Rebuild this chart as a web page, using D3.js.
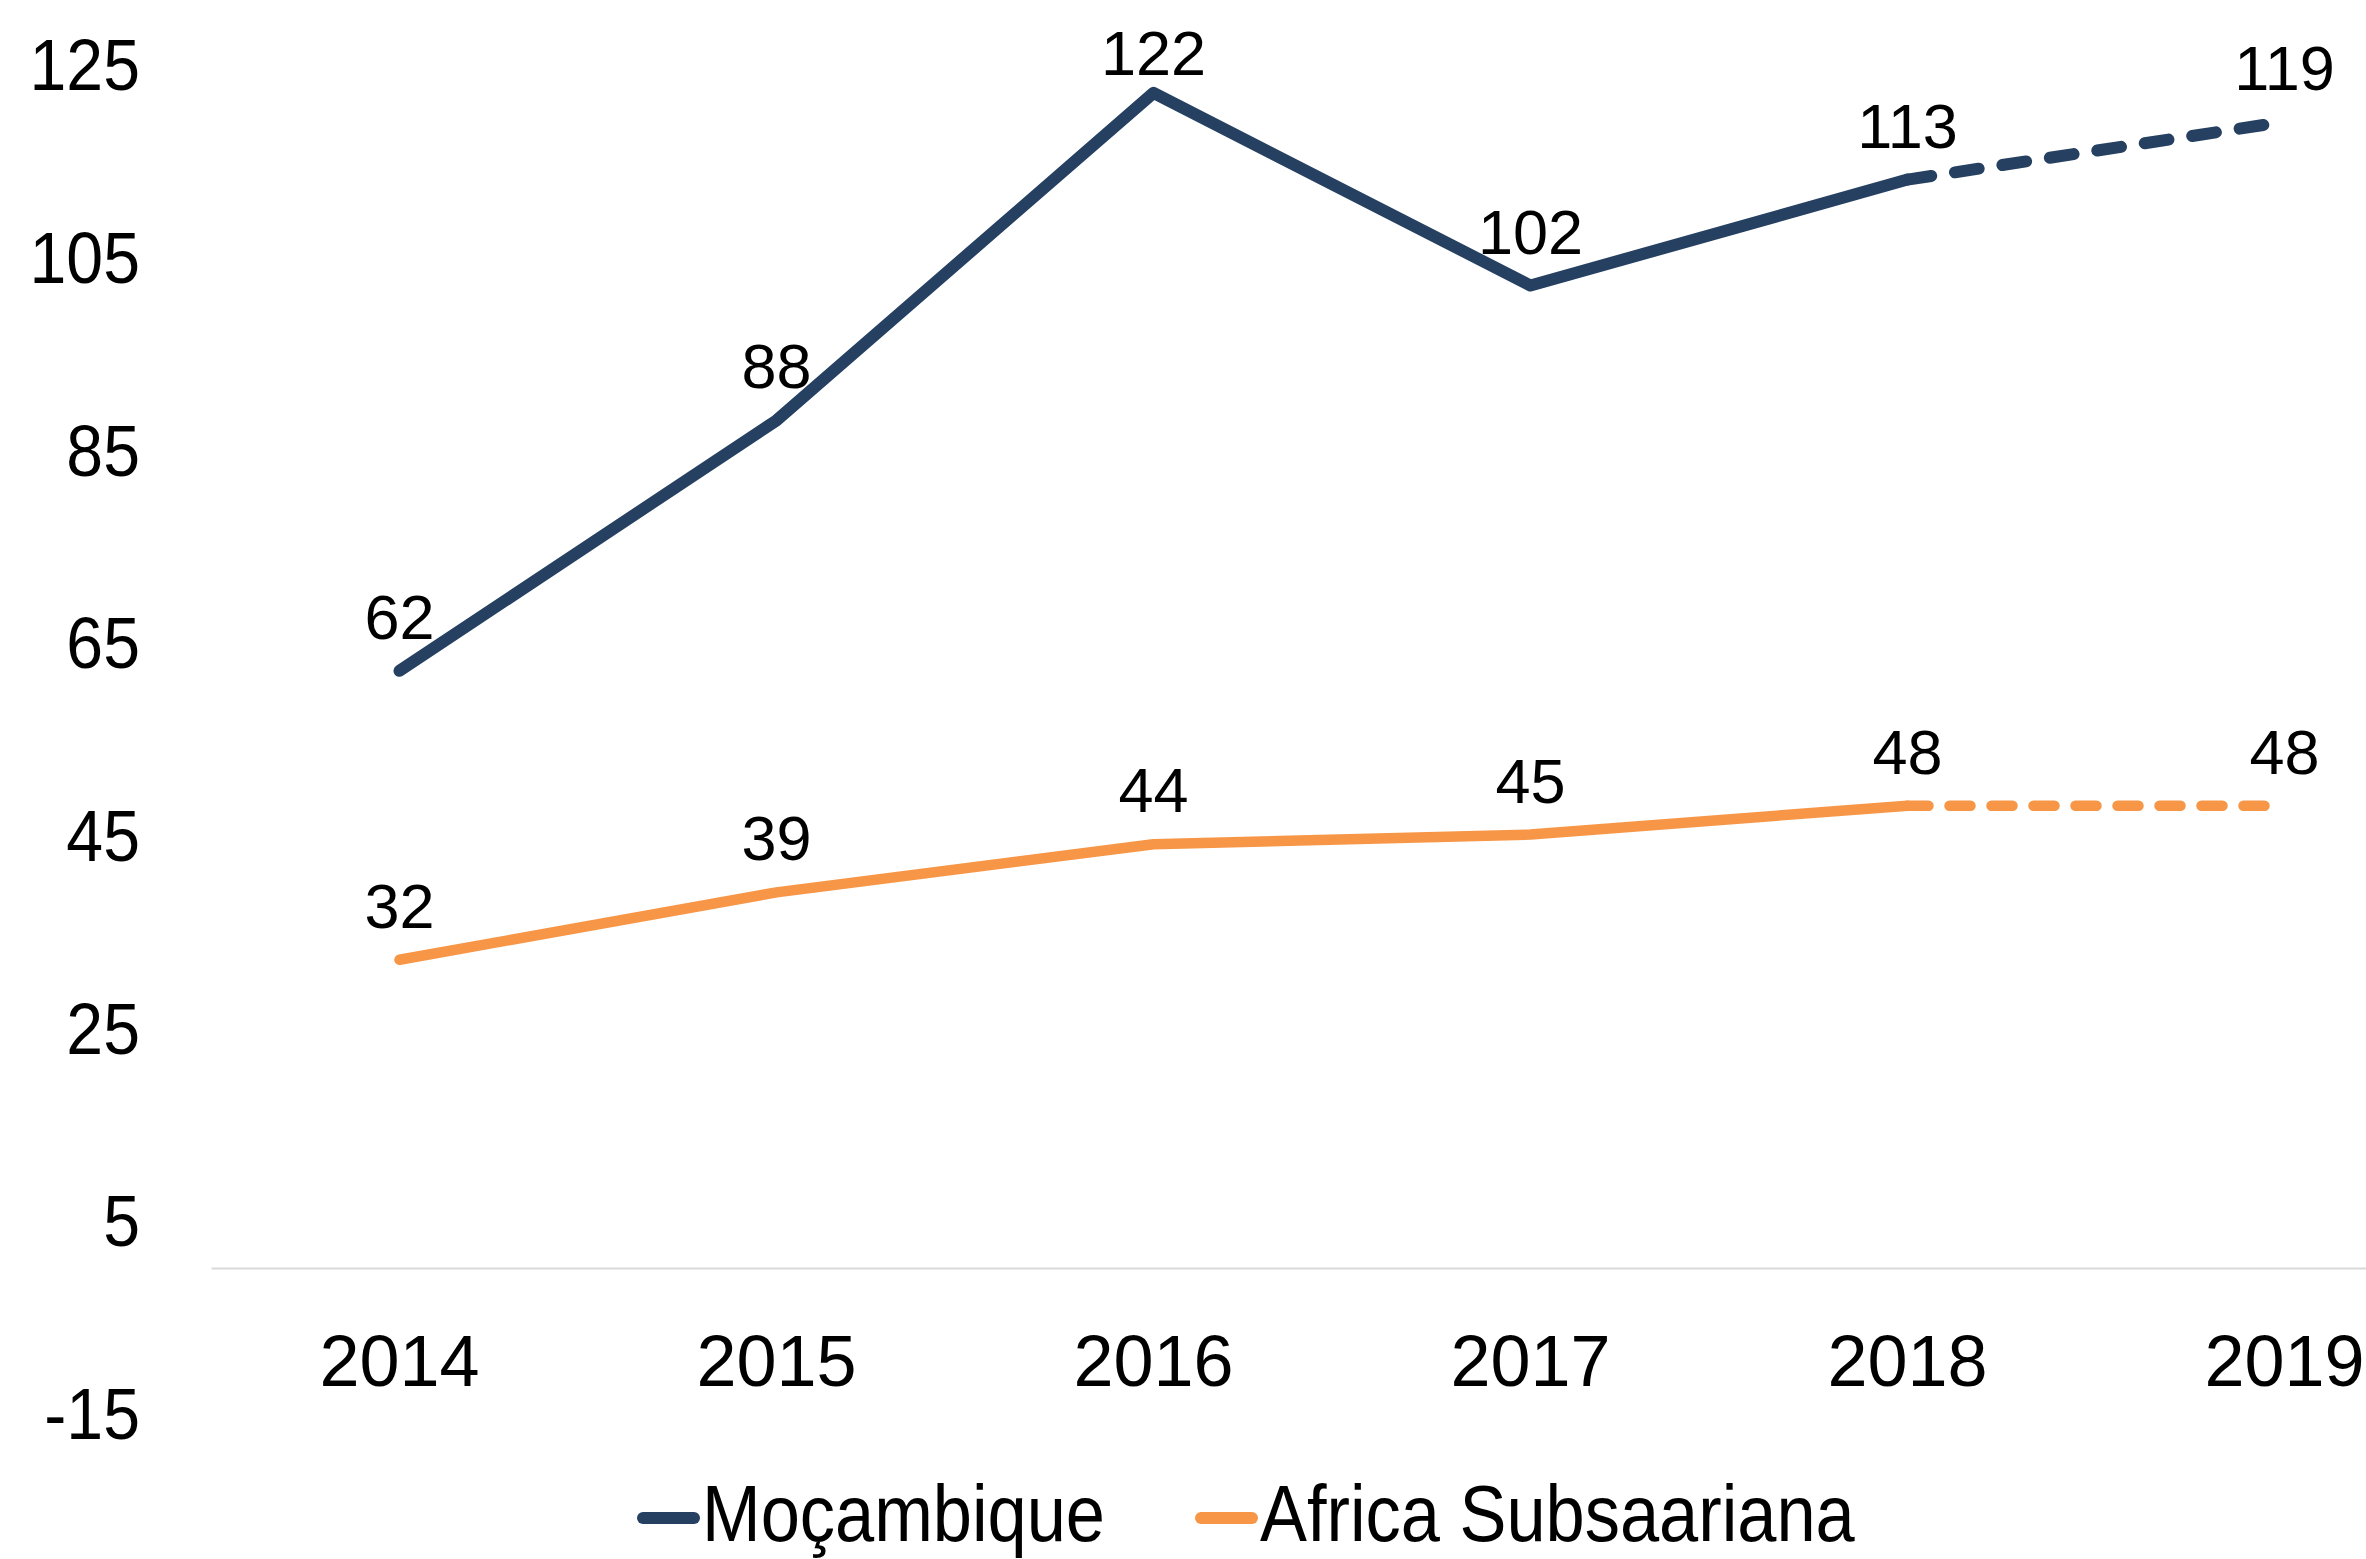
<!DOCTYPE html>
<html>
<head>
<meta charset="utf-8">
<script src="https://cdn.jsdelivr.net/npm/d3@7"></script>
<style>
  html, body { margin: 0; padding: 0; background: #ffffff; }
  svg { display: block; }
</style>
</head>
<body>
<svg id="chart" width="2366" height="1559"></svg>
<script>
// Years on the category axis
const years = ["2014", "2015", "2016", "2017", "2018", "2019"];
// Series values
const mocambique = [62, 88, 122, 102, 113, 119];
const africaSubsaariana = [32, 39, 44, 45, 48, 48];
const seriesNames = ["Moçambique", "Africa Subsaariana"];
const seriesColors = ["#264061", "#F79646"];
// Value axis ticks
const yTicks = [-15, 5, 25, 45, 65, 85, 105, 125];
// From this year onward the lines are drawn dashed (estimates)
const estimateFrom = "2018";

const FONT = "'Liberation Sans', Arial, sans-serif";
const svg = d3.select("#chart");

const plotLeft = 211, catWidth = 377;
const x = d3.scaleBand().domain(years).range([plotLeft, plotLeft + catWidth * years.length]).padding(0);
const cx = d => x(d) + x.bandwidth() / 2;
const y = d3.scaleLinear().domain([yTicks[0], yTicks[yTicks.length - 1]]).range([1412.5, 64]);

// Category axis, crossing the value axis at zero
const xAxis = svg.append("g")
  .attr("transform", `translate(0,${y(0)})`)
  .call(d3.axisBottom(x).tickSize(0).tickSizeOuter(0).tickPadding(67));
xAxis.select(".domain").attr("stroke", "#d9d9d9").attr("stroke-width", 2);
xAxis.selectAll("text").attr("font-family", FONT).attr("font-size", 72).attr("fill", "#000");

// Value axis labels only (plain hyphen for negatives), slightly condensed
const yAxis = svg.append("g")
  .attr("transform", `translate(${plotLeft},0)`)
  .call(d3.axisLeft(y).tickValues(yTicks).tickSize(0).tickPadding(71).tickFormat(d => String(d)));
yAxis.select(".domain").remove();
yAxis.selectAll("text")
  .attr("font-family", FONT).attr("font-size", 72).attr("fill", "#000").attr("dy", "0.36em")
  .attr("x", 0)
  .attr("transform", "translate(-71,0) scale(0.92,1)");

const series = [
  { name: seriesNames[0], values: mocambique, color: seriesColors[0], width: 12 },
  { name: seriesNames[1], values: africaSubsaariana, color: seriesColors[1], width: 10.5 }
];

const line = d3.line().x(d => cx(d.year)).y(d => y(d.value));
const split = years.indexOf(estimateFrom);

series.forEach(s => {
  const pts = years.map((yr, i) => ({ year: yr, value: s.values[i] }));
  const g = svg.append("g");
  // observed part
  g.append("path")
    .attr("d", line(pts.slice(0, split + 1)))
    .attr("fill", "none").attr("stroke", s.color).attr("stroke-width", s.width)
    .attr("stroke-linecap", "round").attr("stroke-linejoin", "round");
  // estimated part
  g.append("path")
    .attr("d", line(pts.slice(split)))
    .attr("fill", "none").attr("stroke", s.color).attr("stroke-width", s.width)
    .attr("stroke-linecap", "round").attr("stroke-linejoin", "round")
    .attr("stroke-dasharray", `${2 * s.width},${2 * s.width}`);
  // value labels above each point
  g.selectAll("text.val").data(pts).join("text")
    .attr("class", "val")
    .attr("x", d => cx(d.year))
    .attr("y", d => Math.max(y(d.value) - 32, 75))
    .attr("text-anchor", "middle")
    .attr("font-family", FONT).attr("font-size", 63).attr("fill", "#000")
    .text(d => d.value);
});

// Legend
const legend = svg.append("g");
const legendY = 1518, textScale = 0.88;
let lx = 637;
series.forEach(s => {
  legend.append("line")
    .attr("x1", lx + 6).attr("x2", lx + 57)
    .attr("y1", legendY).attr("y2", legendY)
    .attr("stroke", s.color).attr("stroke-width", 12).attr("stroke-linecap", "round");
  const tx = lx + 65;
  const t = legend.append("g").attr("transform", `translate(${tx},1541) scale(${textScale},1)`)
    .append("text")
    .attr("x", 0).attr("y", 0)
    .attr("font-family", FONT).attr("font-size", 80).attr("fill", "#000")
    .text(s.name);
  const tw = t.node().getComputedTextLength() * textScale;
  lx = tx + tw + 90;
});
</script>
</body>
</html>
